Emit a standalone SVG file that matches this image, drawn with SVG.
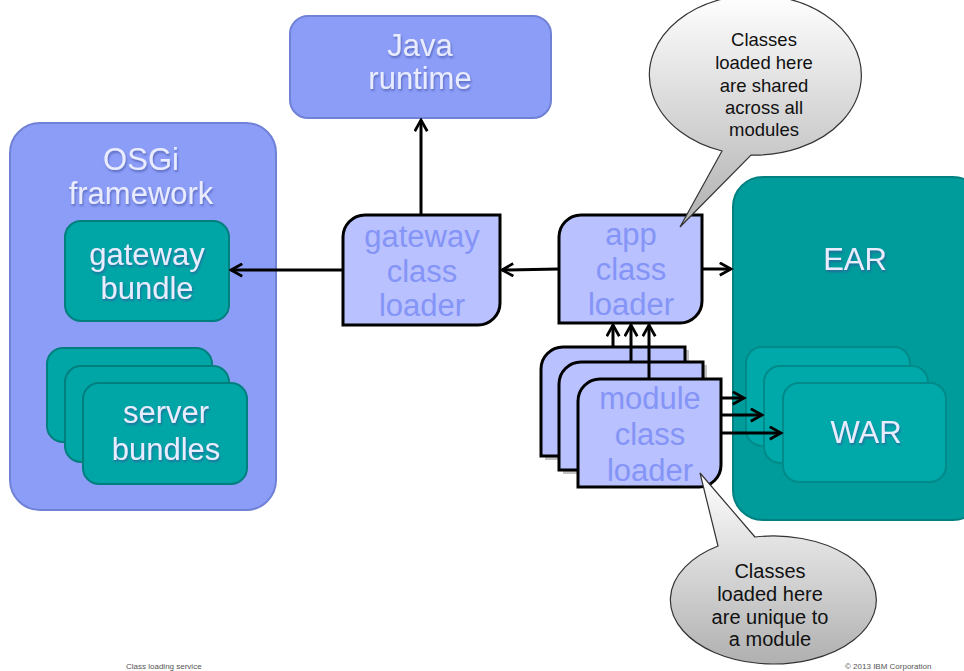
<svg xmlns="http://www.w3.org/2000/svg" width="964" height="671" viewBox="0 0 964 671">
  <defs>
    <style>
      text { font-family: "Liberation Sans", Arial, sans-serif; text-anchor: middle; }
      .box-blue { fill: #8c9df8; stroke: #7081d6; stroke-width: 2; }
      .box-teal { fill: #00a6a6; stroke: #007f7f; stroke-width: 2; }
      .box-ear { fill: #009b9b; stroke: #008080; stroke-width: 2; }
      .box-war { fill: #00a9a9; stroke: #008a8a; stroke-width: 2; }
      .loader { fill: #b9c1fe; stroke: #000; stroke-width: 3; }
      .shadow { fill: #9a9a9a; opacity: 0.6; }
      .lbl-light { fill: #e9ecff; font-size: 31px; filter: url(#txtShadow); }
      .lbl-loader { fill: #8494f7; font-size: 31px; }
      .lbl-call { fill: #111; }
      .callout { fill: url(#bubble); stroke: #333; stroke-width: 1.2; }
      .conn { stroke: #000; stroke-width: 3; fill: none; marker-end: url(#arrow); }
      .foot { fill: #555; font-size: 8px; text-anchor: start; }
    </style>
    <marker id="arrow" viewBox="0 0 12 12" refX="10" refY="6" markerWidth="5" markerHeight="5" markerUnits="strokeWidth" orient="auto">
      <path d="M1,1 L10,6 L1,11" fill="none" stroke="#000" stroke-width="2.2"/>
    </marker>
    <linearGradient id="bubble" x1="0" y1="0" x2="0" y2="1">
      <stop offset="0" stop-color="#ffffff"/>
      <stop offset="1" stop-color="#b0b0b0"/>
    </linearGradient>
    <filter id="txtShadow" x="-10%" y="-20%" width="130%" height="150%">
      <feGaussianBlur in="SourceAlpha" stdDeviation="1"/>
      <feOffset dx="1" dy="1.5" result="b"/>
      <feFlood flood-color="#3a4a9a" flood-opacity="0.6"/>
      <feComposite in2="b" operator="in"/>
      <feMerge><feMergeNode/><feMergeNode in="SourceGraphic"/></feMerge>
    </filter>
  </defs>

  <!-- Java runtime -->
  <g id="java-runtime">
    <rect class="box-blue" x="290" y="16" width="261" height="102" rx="18"/>
    <text class="lbl-light" x="420" y="56">Java</text>
    <text class="lbl-light" x="420" y="89">runtime</text>
  </g>

  <!-- OSGi framework with its bundles -->
  <g id="osgi-framework">
    <rect class="box-blue" x="10" y="123" width="266" height="387" rx="30"/>
    <text class="lbl-light" x="141" y="170">OSGi</text>
    <text class="lbl-light" x="141" y="204">framework</text>
  </g>
  <g id="gateway-bundle">
    <rect class="box-teal" x="65" y="221" width="164" height="100" rx="16"/>
    <text class="lbl-light" x="147" y="265">gateway</text>
    <text class="lbl-light" x="147" y="299">bundle</text>
  </g>
  <g id="server-bundles">
    <rect class="box-teal" x="47" y="348" width="165" height="94" rx="16"/>
    <rect class="box-teal" x="65" y="366" width="164" height="96" rx="16"/>
    <rect class="box-teal" x="83" y="383" width="164" height="101" rx="16"/>
    <text class="lbl-light" x="166" y="423">server</text>
    <text class="lbl-light" x="166" y="460">bundles</text>
  </g>

  <!-- EAR with its WAR modules -->
  <g id="ear">
    <rect class="box-ear" x="733" y="177" width="250" height="343" rx="30"/>
    <text class="lbl-light" x="855" y="270" font-size="32">EAR</text>
  </g>
  <g id="war">
    <rect class="box-war" x="746" y="347" width="164" height="99" rx="16"/>
    <rect class="box-war" x="764" y="366" width="164" height="97" rx="16"/>
    <rect class="box-war" x="783" y="383" width="163" height="99" rx="16"/>
    <text class="lbl-light" x="866" y="443">WAR</text>
  </g>

  <!-- class loaders -->
  <g id="gateway-class-loader">
    <path class="loader" d="M365,215 H500 V303 A22,22 0 0 1 478,325 H343 V237 A22,22 0 0 1 365,215 Z"/>
    <text class="lbl-loader" x="422" y="247">gateway</text>
    <text class="lbl-loader" x="422" y="282">class</text>
    <text class="lbl-loader" x="422" y="316">loader</text>
  </g>
  <g id="app-class-loader">
    <path class="loader" d="M581,215 H702 V301 A22,22 0 0 1 680,323 H559 V237 A22,22 0 0 1 581,215 Z"/>
    <text class="lbl-loader" x="631" y="245">app</text>
    <text class="lbl-loader" x="631" y="280">class</text>
    <text class="lbl-loader" x="631" y="315">loader</text>
  </g>
  <g id="module-class-loader">
    <path class="shadow" d="M566,350 H689 V460 H545 V372 A22,22 0 0 1 566,350 Z"/>
    <path class="loader" d="M563,347 H685 V434 A22,22 0 0 1 663,456 H541 V369 A22,22 0 0 1 563,347 Z"/>
    <path class="shadow" d="M584,365 H707 V474 H563 V387 A22,22 0 0 1 584,365 Z"/>
    <path class="loader" d="M581,362 H703 V448 A22,22 0 0 1 681,470 H559 V384 A22,22 0 0 1 581,362 Z"/>
    <path class="loader" d="M600,379 H721 V465 A22,22 0 0 1 699,487 H578 V401 A22,22 0 0 1 600,379 Z"/>
    <text class="lbl-loader" x="650" y="409">module</text>
    <text class="lbl-loader" x="650" y="445">class</text>
    <text class="lbl-loader" x="650" y="481">loader</text>
  </g>

  <!-- delegation arrows -->
  <g id="connectors">
    <line class="conn" x1="421" y1="215" x2="421" y2="120"/>
    <line class="conn" x1="343" y1="270" x2="231" y2="270"/>
    <line class="conn" x1="559" y1="269" x2="502" y2="270"/>
    <line class="conn" x1="702" y1="269" x2="731" y2="269"/>
    <line class="conn" x1="613" y1="347" x2="613" y2="325"/>
    <line class="conn" x1="631" y1="362" x2="631" y2="325"/>
    <line class="conn" x1="649" y1="379" x2="649" y2="325"/>
    <line class="conn" x1="721" y1="398" x2="744" y2="398"/>
    <line class="conn" x1="721" y1="415" x2="762" y2="415"/>
    <line class="conn" x1="721" y1="433" x2="781" y2="433"/>
  </g>

  <!-- callouts -->
  <g id="callout-shared">
    <path class="callout" d="M722,151 L680,227 L751,155 A106,80 0 1 0 722,151 Z"/>
    <text class="lbl-call" x="764" y="46" font-size="18.5">Classes</text>
    <text class="lbl-call" x="764" y="69" font-size="18.5">loaded here</text>
    <text class="lbl-call" x="764" y="92" font-size="18.5">are shared</text>
    <text class="lbl-call" x="764" y="114" font-size="18.5">across all</text>
    <text class="lbl-call" x="764" y="136" font-size="18.5">modules</text>
  </g>
  <g id="callout-unique">
    <path class="callout" d="M718,546 L700,473 L755,537 A103,64 0 1 1 718,546 Z"/>
    <text class="lbl-call" x="770" y="578" font-size="20">Classes</text>
    <text class="lbl-call" x="770" y="601" font-size="20">loaded here</text>
    <text class="lbl-call" x="770" y="624" font-size="20">are unique to</text>
    <text class="lbl-call" x="770" y="646" font-size="20">a module</text>
  </g>

  <!-- footer -->
  <text class="foot" x="126" y="669">Class loading service</text>
  <text class="foot" x="845" y="669">© 2013 IBM Corporation</text>
</svg>
